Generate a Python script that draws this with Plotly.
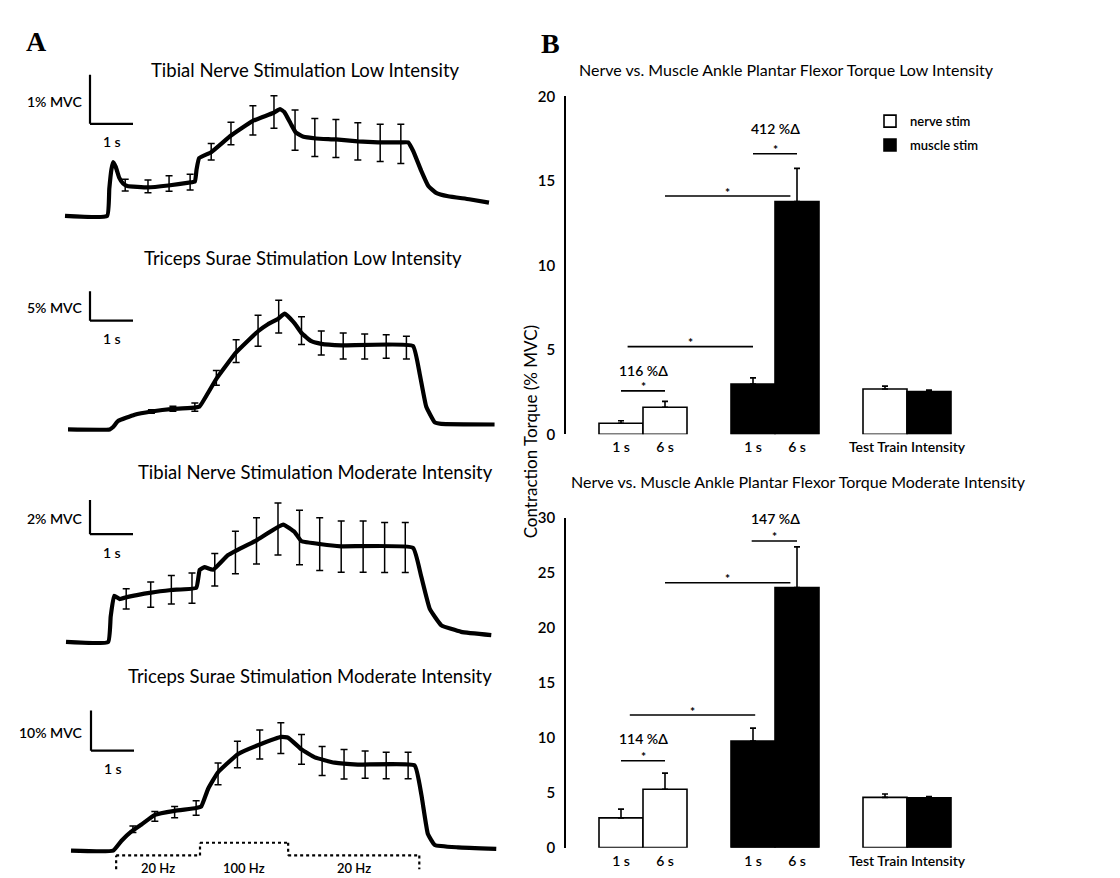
import plotly.graph_objects as go

W, H = 1120, 878
FONT = "Lato"
PX_PER_S = 43.0

# ---------------- Panel A data (time in s, torque in % MVC) ----------------
a_titles = ["Tibial Nerve Stimulation Low Intensity",
            "Triceps Surae Stimulation Low Intensity",
            "Tibial Nerve Stimulation Moderate Intensity",
            "Triceps Surae Stimulation Moderate Intensity"]
scale_mvc = [1, 5, 2, 10]
scale_labels = ["1% MVC", "5% MVC", "2% MVC", "10% MVC"]

tib_low_t = [0, 0.98, 1.03, 1.08, 1.12, 1.18, 1.26, 1.35, 1.45, 1.93, 2.4, 2.88, 3.02, 3.06, 3.12, 3.4,
             3.86, 4.37, 4.84, 5.0, 5.1, 5.25, 5.37, 5.53, 5.84, 6.3, 6.81, 7.28, 7.81, 7.98, 8.1, 8.28,
             8.45, 8.63, 8.91, 9.4, 9.86]
tib_low_v = [0, 0, 0.55, 0.95, 1.10, 1.00, 0.78, 0.66, 0.61, 0.58, 0.62, 0.68, 0.70, 0.95, 1.18, 1.30,
             1.64, 1.94, 2.10, 2.18, 2.12, 1.88, 1.70, 1.62, 1.58, 1.56, 1.52, 1.50, 1.50, 1.50, 1.32, 0.93,
             0.61, 0.47, 0.40, 0.34, 0.27]
tib_low_et = [1.40, 1.93, 2.42, 2.91, 3.40, 3.86, 4.37, 4.86, 5.35, 5.81, 6.30, 6.81, 7.33, 7.81]
tib_low_ev = [0.63, 0.60, 0.66, 0.69, 1.31, 1.68, 1.95, 2.12, 1.75, 1.60, 1.58, 1.52, 1.49, 1.47]
tib_low_se = [0.12, 0.13, 0.16, 0.16, 0.17, 0.23, 0.30, 0.33, 0.41, 0.39, 0.39, 0.38, 0.38, 0.40]

tri_low_t = [0, 0.97, 1.05, 1.16, 1.55, 1.94, 2.44, 2.95, 3.06, 3.45, 3.91, 4.42, 4.65, 4.88, 5.04, 5.27,
             5.43, 5.66, 5.89, 6.36, 8.02, 8.18, 8.33, 8.53, 8.68, 9.92]
tri_low_v = [0, 0, 0.4, 1.4, 2.5, 3.05, 3.5, 3.7, 3.9, 8.6, 13.1, 16.7, 17.9, 18.8, 19.7, 18.05,
             16.4, 15.0, 14.55, 14.3, 14.2, 9.4, 3.9, 1.2, 0.94, 0.83]
tri_low_et = [1.94, 2.44, 2.95, 3.45, 3.91, 4.42, 4.90, 5.43, 5.89, 6.40, 6.90, 7.40, 7.87]
tri_low_ev = [3.06, 3.5, 3.78, 8.78, 13.3, 16.8, 19.2, 16.8, 14.7, 14.2, 14.1, 14.1, 13.9]
tri_low_se = [0.3, 0.42, 0.69, 1.25, 1.94, 2.64, 2.78, 2.36, 2.06, 2.22, 2.14, 2.0, 1.94]

tib_mod_t = [0, 0.98, 1.04, 1.12, 1.25, 1.44, 1.98, 2.45, 3.03, 3.11, 3.22, 3.42, 3.77, 4.43, 5.05, 5.32,
             5.47, 5.94, 6.40, 8.07, 8.26, 8.46, 8.73, 9.19, 9.89]
tib_mod_v = [0, 0, 1.5, 2.69, 2.50, 2.63, 2.88, 3.03, 3.16, 4.21, 4.36, 4.21, 5.07, 5.93, 6.84, 6.4,
             5.89, 5.70, 5.58, 5.49, 3.83, 1.93, 0.97, 0.59, 0.4]
tib_mod_et = [1.40, 1.97, 2.45, 2.93, 3.46, 3.94, 4.43, 4.93, 5.43, 5.90, 6.40, 6.91, 7.41, 7.89]
tib_mod_ev = [2.51, 2.76, 3.04, 3.14, 4.21, 5.22, 5.90, 6.59, 6.09, 5.71, 5.56, 5.56, 5.51, 5.51]
tib_mod_se = [0.59, 0.74, 0.83, 0.88, 0.95, 1.24, 1.35, 1.52, 1.59, 1.54, 1.50, 1.50, 1.46, 1.46]

tri_mod_t = [0, 0.98, 1.17, 1.40, 1.64, 1.95, 2.41, 2.91, 3.03, 3.19, 3.42, 3.88, 4.39, 4.89, 5.05, 5.36,
             5.67, 6.13, 6.67, 7.99, 8.15, 8.30, 8.46, 9.0, 9.89]
tri_mod_v = [0, 0, 2.4, 4.7, 6.5, 8.9, 9.9, 10.6, 11.0, 15.4, 19.5, 24.0, 26.4, 28.3, 28.1, 25.2,
             23.2, 21.9, 21.4, 21.2, 13.8, 4.1, 1.4, 0.8, 0.4]
tri_mod_et = [1.44, 1.95, 2.41, 2.91, 3.42, 3.87, 4.39, 4.88, 5.36, 5.84, 6.35, 6.84, 7.33, 7.84]
tri_mod_ev = [5.3, 8.5, 9.6, 10.6, 19.1, 23.9, 26.4, 28.0, 25.2, 22.3, 21.5, 21.4, 21.2, 21.2]
tri_mod_se = [0.8, 1.2, 1.4, 1.8, 2.7, 3.3, 3.6, 3.8, 3.7, 3.6, 3.7, 3.4, 3.3, 3.3]

stim_edges = [1.05, 3.0, 5.05, 8.1]
stim_freqs = ["20 Hz", "100 Hz", "20 Hz"]

# ---------------- Panel B data ----------------
nerve_pos = [0, 1, 6]
muscle_pos = [3, 4, 7]
tick_pos = [0, 1, 3, 4, 6.5]
tick_text = ["1 s", "6 s", "1 s", "6 s", "Test Train Intensity"]

low_nerve = [0.65, 1.6, 2.68]
low_nerve_err = [0.15, 0.35, 0.17]
low_muscle = [2.97, 13.78, 2.53]
low_muscle_err = [0.37, 1.96, 0.09]
mod_nerve = [2.70, 5.31, 4.57]
mod_nerve_err = [0.8, 1.46, 0.3]
mod_muscle = [9.68, 23.63, 4.54]
mod_muscle_err = [1.18, 3.7, 0.1]

low_sig = [(0, 1, 2.57), (0.15, 3.0, 5.19), (1.0, 3.85, 14.1), (3.0, 4.0, 16.6)]
low_delta = [(0.5, 3.67, "116 %\u0394"), (3.5, 17.96, "412 %\u0394")]
mod_sig = [(0, 1, 7.9), (0.2, 3.05, 12.05), (1.0, 3.85, 24.07), (2.97, 4.0, 27.87)]
mod_delta = [(0.5, 9.73, "114 %\u0394"), (3.5, 29.74, "147 %\u0394")]

# ---------------- Layout geometry (pixels) ----------------
panels = [
    dict(t=tib_low_t, v=tib_low_v, et=tib_low_et, ev=tib_low_ev, se=tib_low_se,
         x0=57, base=202, ppu=50, top=40, bottom=215, tx=297, ty=53, bar=(82, 108)),
    dict(t=tri_low_t, v=tri_low_v, et=tri_low_et, ev=tri_low_ev, se=tri_low_se,
         x0=60, base=420, ppu=6, top=250, bottom=430, tx=295, ty=245, bar=(82, 309)),
    dict(t=tib_mod_t, v=tib_mod_v, et=tib_mod_et, ev=tib_mod_ev, se=tib_mod_se,
         x0=58, base=637, ppu=17.5, top=470, bottom=645, tx=307, ty=463, bar=(82, 527)),
    dict(t=tri_mod_t, v=tri_mod_v, et=tri_mod_et, ev=tri_mod_ev, se=tri_mod_se,
         x0=63, base=850, ppu=4.1, top=685, bottom=860, tx=302, ty=672, bar=(83, 748)),
]

def px(x):
    return x / W

def py(y):
    return 1 - y / H

fig = go.Figure()
layout = dict(width=W, height=H, margin=dict(l=0, r=0, t=0, b=0),
              paper_bgcolor="white", plot_bgcolor="white",
              font=dict(family=FONT, color="black", size=13))
shapes = []
annotations = []

for i, p in enumerate(panels):
    n = i + 1
    xa = "x" if n == 1 else f"x{n}"
    ya = "y" if n == 1 else f"y{n}"
    layout[f"xaxis{n}"] = dict(domain=[px(40), px(500)], anchor=ya, visible=False,
                               range=[(40 - p["x0"]) / PX_PER_S, (500 - p["x0"]) / PX_PER_S])
    layout[f"yaxis{n}"] = dict(domain=[py(p["bottom"]), py(p["top"])], anchor=xa, visible=False,
                               range=[(p["base"] - p["bottom"]) / p["ppu"], (p["base"] - p["top"]) / p["ppu"]])
    fig.add_trace(go.Scatter(x=p["et"], y=p["ev"], mode="markers", marker=dict(size=1, color="black", opacity=0),
                             error_y=dict(type="data", array=p["se"], color="black", thickness=1.5, width=3.5),
                             xaxis=xa, yaxis=ya, showlegend=False, cliponaxis=False))
    fig.add_trace(go.Scatter(x=p["t"], y=p["v"], mode="lines",
                             line=dict(color="black", width=4.2, shape="spline", smoothing=0.35),
                             xaxis=xa, yaxis=ya, showlegend=False, cliponaxis=False))
    # scale bars
    bx, by = p["bar"]
    ta = (bx - p["x0"]) / PX_PER_S
    va = (p["base"] - by) / p["ppu"]
    shapes.append(dict(type="line", xref=xa, yref=ya, x0=ta, x1=ta, y0=va, y1=va + scale_mvc[i],
                       line=dict(color="black", width=2.2)))
    shapes.append(dict(type="line", xref=xa, yref=ya, x0=ta, x1=ta + 1, y0=va, y1=va,
                       line=dict(color="black", width=2.2)))
    annotations.append(dict(x=ta - 0.13, y=va + scale_mvc[i] * 0.45, xref=xa, yref=ya, text=scale_labels[i],
                            showarrow=False, xanchor="right", yanchor="middle",
                            font=dict(size=14, weight=600)))
    annotations.append(dict(x=ta + 0.5, y=va, xref=xa, yref=ya, text="1 s", yshift=-18,
                            showarrow=False, xanchor="center", yanchor="middle",
                            font=dict(size=14, weight=600)))
    annotations.append(dict(x=px(p["tx"]), y=py(p["ty"]), xref="paper", yref="paper", text=a_titles[i],
                            showarrow=False, xanchor="center", yanchor="middle", font=dict(size=18.5)))

# stimulation protocol (dotted) under panel 4
lvl_low, lvl_high, lvl_drop = py(855), py(842), py(869)
proto_x = [stim_edges[0], stim_edges[0], stim_edges[1], stim_edges[1], stim_edges[2], stim_edges[2],
           stim_edges[3], stim_edges[3]]
proto_y = [lvl_drop, lvl_low, lvl_low, lvl_high, lvl_high, lvl_low, lvl_low, lvl_drop]
for k in range(len(proto_x) - 1):
    shapes.append(dict(type="line", xref="x4", yref="paper", x0=proto_x[k], x1=proto_x[k + 1],
                       y0=proto_y[k], y1=proto_y[k + 1], line=dict(color="black", width=2.2, dash="dot")))
for k, lab in enumerate(stim_freqs):
    annotations.append(dict(x=(stim_edges[k] + stim_edges[k + 1]) / 2, y=py(868), xref="x4", yref="paper",
                            text=lab, showarrow=False, xanchor="center", yanchor="middle",
                            font=dict(size=13, weight=600)))

# ---------------- Panel B bar charts ----------------
bar_specs = [
    dict(n=5, nerve=low_nerve, ne=low_nerve_err, muscle=low_muscle, me=low_muscle_err,
         top=80, bottom=425, ymax=20, dtick=5, sig=low_sig, delta=low_delta, legend=True),
    dict(n=6, nerve=mod_nerve, ne=mod_nerve_err, muscle=mod_muscle, me=mod_muscle_err,
         top=510, bottom=847, ymax=30, dtick=5, sig=mod_sig, delta=mod_delta, legend=False),
]
BX0, BX1 = 558, 1120
UNIT = 44.0
for b in bar_specs:
    n = b["n"]
    xa, ya = f"x{n}", f"y{n}"
    left = (BX0 - 613) / UNIT
    layout[f"xaxis{n}"] = dict(domain=[px(BX0), px(BX1)], anchor=ya, range=[left, left + (BX1 - BX0) / UNIT],
                               showline=False, showgrid=False, zeroline=False, ticks="",
                               tickvals=tick_pos, ticktext=tick_text,
                               tickfont=dict(size=14, weight=600), ticklabelstandoff=3)
    layout[f"yaxis{n}"] = dict(domain=[py(b["bottom"]), py(b["top"])], anchor=xa, range=[0, b["ymax"]],
                               showline=True, linecolor="black", linewidth=1.6, showgrid=False,
                               zeroline=False, ticks="", dtick=b["dtick"],
                               tickfont=dict(size=15, weight=600), ticklabelstandoff=6)
    fig.add_trace(go.Bar(x=nerve_pos, y=b["nerve"], width=1.0, name="nerve stim", legendgroup="n",
                         marker=dict(color="white", line=dict(color="black", width=1.6)),
                         error_y=dict(type="data", array=b["ne"], arrayminus=[0] * 3, symmetric=False,
                                      color="black", thickness=1.6, width=3),
                         xaxis=xa, yaxis=ya, showlegend=b["legend"]))
    fig.add_trace(go.Bar(x=muscle_pos, y=b["muscle"], width=1.0, name="muscle stim", legendgroup="m",
                         marker=dict(color="black", line=dict(color="black", width=1.6)),
                         error_y=dict(type="data", array=b["me"], arrayminus=[0] * 3, symmetric=False,
                                      color="black", thickness=1.6, width=3),
                         xaxis=xa, yaxis=ya, showlegend=b["legend"]))
    for (x0, x1, yv) in b["sig"]:
        shapes.append(dict(type="line", xref=xa, yref=ya, x0=x0, x1=x1, y0=yv, y1=yv,
                           line=dict(color="black", width=1.6)))
        annotations.append(dict(x=(x0 + x1) / 2, y=yv, xref=xa, yref=ya, text="*", showarrow=False,
                                xanchor="center", yanchor="middle", yshift=4,
                                font=dict(size=12, weight=700)))
    for (xv, yv, txt) in b["delta"]:
        annotations.append(dict(x=xv, y=yv, xref=xa, yref=ya, text=txt, showarrow=False,
                                xanchor="center", yanchor="middle", yshift=2,
                                font=dict(size=14, weight=600)))

annotations.append(dict(x=px(778), y=py(53), xref="paper", yref="paper",
                        text="Nerve vs. Muscle Ankle Plantar Flexor Torque Low Intensity",
                        showarrow=False, xanchor="center", yanchor="middle", font=dict(size=16)))
annotations.append(dict(x=px(790), y=py(473), xref="paper", yref="paper",
                        text="Nerve vs. Muscle Ankle Plantar Flexor Torque Moderate Intensity",
                        showarrow=False, xanchor="center", yanchor="middle", font=dict(size=16)))
annotations.append(dict(x=px(522), y=py(422), xref="paper", yref="paper", text="Contraction Torque (% MVC)",
                        textangle=-90, showarrow=False, xanchor="center", yanchor="middle", font=dict(size=17)))
annotations.append(dict(x=px(28), y=py(24), xref="paper", yref="paper", text="<b>A</b>", showarrow=False,
                        xanchor="center", yanchor="middle",
                        font=dict(size=28, family="Liberation Serif")))
annotations.append(dict(x=px(542), y=py(26), xref="paper", yref="paper", text="<b>B</b>", showarrow=False,
                        xanchor="center", yanchor="middle",
                        font=dict(size=28, family="Liberation Serif")))

layout["barmode"] = "overlay"
layout["shapes"] = shapes
layout["annotations"] = annotations
layout["legend"] = dict(x=px(862), y=py(90), xanchor="left", yanchor="top",
                        font=dict(size=13, weight=600), bgcolor="rgba(0,0,0,0)",
                        traceorder="grouped", tracegroupgap=4)
fig.update_layout(**layout)
fig.write_html("out.html")
